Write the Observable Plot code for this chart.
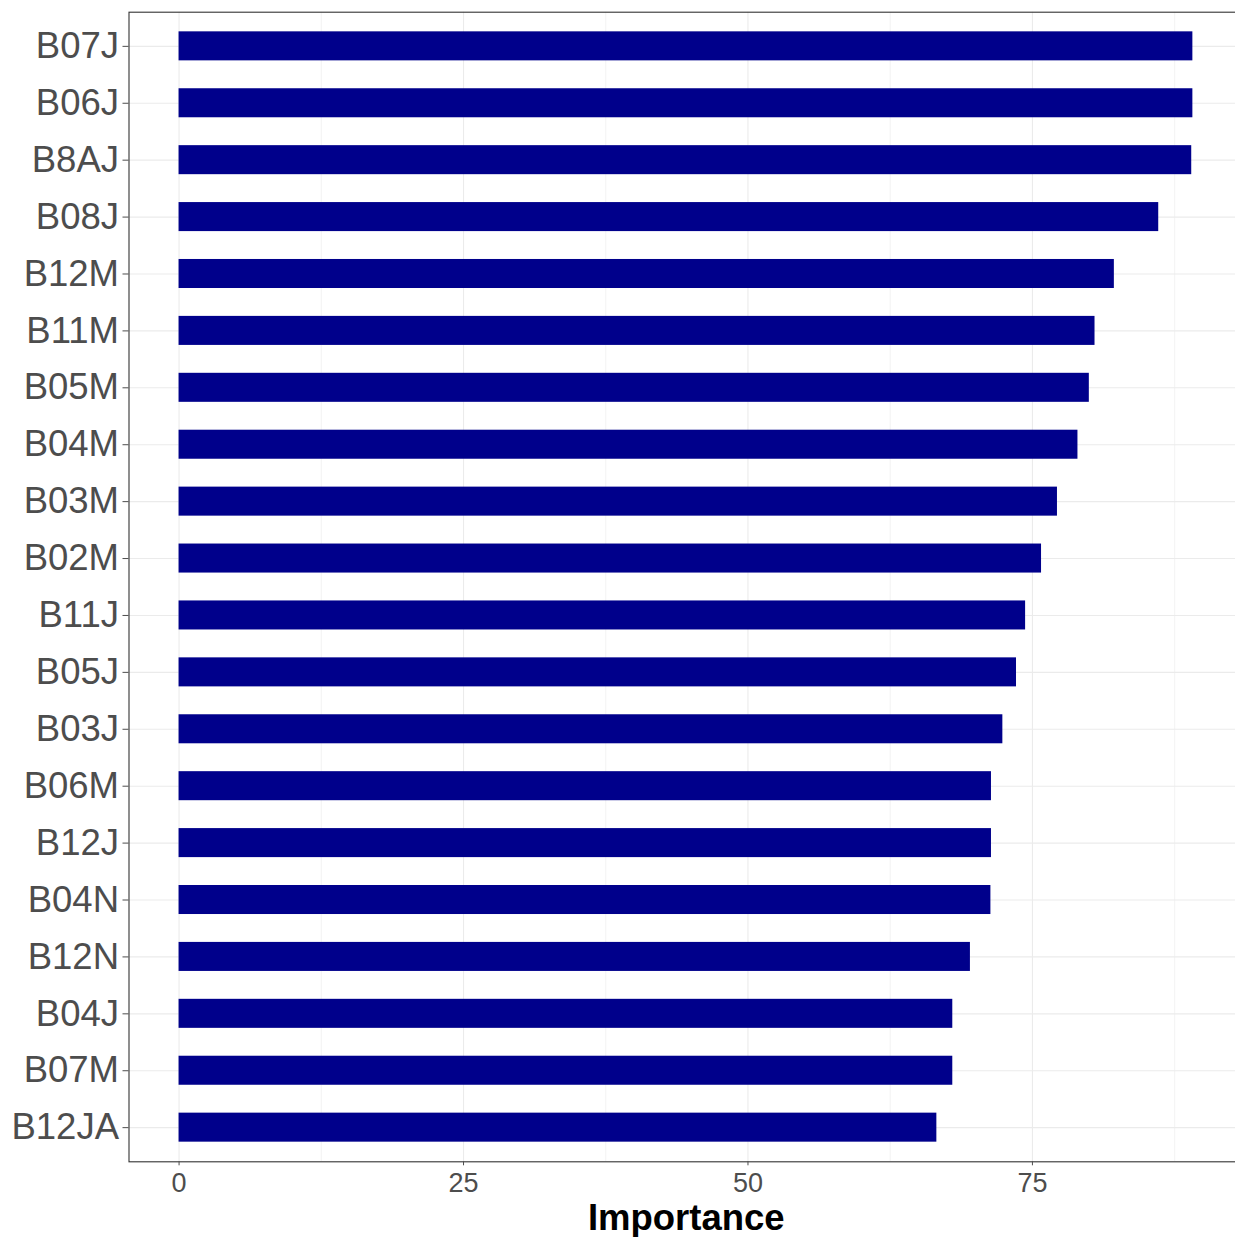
<!DOCTYPE html>
<html>
<head>
<meta charset="utf-8">
<script src="https://cdn.jsdelivr.net/npm/d3@7"></script>
<script src="https://cdn.jsdelivr.net/npm/@observablehq/plot@0.6"></script>
<style>
  html, body { margin: 0; padding: 0; background: #fff; overflow: hidden; }
  #chart svg { display: block; max-width: none; }
</style>
</head>
<body>
<div id="chart"></div>
<script>
const variables = ["B07J","B06J","B8AJ","B08J","B12M","B11M","B05M","B04M","B03M","B02M",
                   "B11J","B05J","B03J","B06M","B12J","B04N","B12N","B04J","B07M","B12JA"];
const importance = [89.1, 89.1, 89.0, 86.1, 82.2, 80.5, 80.0, 79.0, 77.2, 75.8,
                    74.4, 73.6, 72.4, 71.4, 71.4, 71.35, 69.55, 68.0, 68.0, 66.6];
const majorTicks = [0, 25, 50, 75];
const minorTicks = [12.5, 37.5, 62.5, 87.5];
const xTitle = "Importance";

const data = variables.map((v, i) => ({variable: v, value: importance[i]}));

const W = 1235, H = 1237;
const panelLeft = 128.5, panelTop = 11.7, panelBottom = 1161.3;

const plot = Plot.plot({
  width: W,
  height: H,
  marginLeft: panelLeft,
  marginRight: -8,
  marginTop: panelTop,
  marginBottom: H - panelBottom,
  style: {fontFamily: "'Liberation Sans', Arial, sans-serif", background: "#fff", overflow: "hidden"},
  x: {domain: [-4.4, 93.55], ticks: majorTicks},
  y: {domain: variables, paddingInner: 0.49, paddingOuter: 0.345, align: 0.5, round: false},
  marks: [
    Plot.ruleX(minorTicks, {stroke: "#EBEBEB", strokeWidth: 0.6}),
    Plot.ruleX(majorTicks, {stroke: "#EBEBEB", strokeWidth: 1.1}),
    Plot.ruleY(variables, {y: d => d, stroke: "#EBEBEB", strokeWidth: 1.1}),
    Plot.barX(data, {x1: 0, x2: "value", y: "variable", fill: "#00008B", insetTop: 0, insetBottom: 0}),
    Plot.frame({stroke: "#333333", strokeWidth: 1.1}),
    Plot.axisY({tickSize: 6, tickPadding: 4, fontSize: 36.5, color: "#4D4D4D", label: null}),
    Plot.axisX(majorTicks, {tickSize: 4, tickPadding: 7, fontSize: 27, color: "#4D4D4D", label: null}),
    Plot.text([xTitle], {text: d => d, frameAnchor: "bottom", lineAnchor: "middle", dy: 57, fontSize: 36.5, fontWeight: "bold", fill: "#000"})
  ]
});
document.getElementById("chart").appendChild(plot);
</script>
</body>
</html>
